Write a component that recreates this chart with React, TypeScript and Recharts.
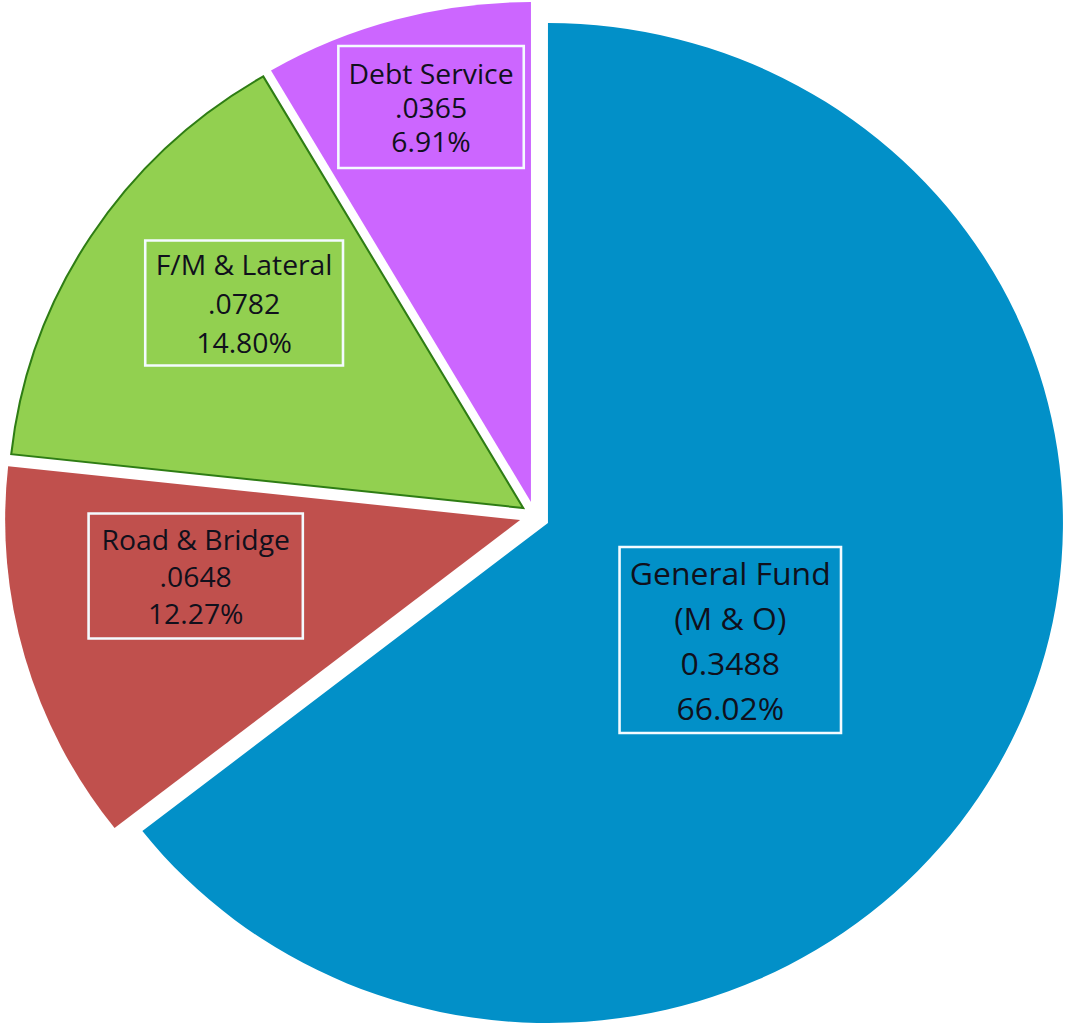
import { PieChart, Pie, Cell } from "recharts";

// funds, in clockwise order from 12 o'clock
const categories = ["General Fund (M & O)", "Road & Bridge", "F/M & Lateral", "Debt Service"];
// slice sizes as drawn in the picture (percent of circle)
const sliceShares = [64.42, 12.28, 14.86, 8.42];
// label texts as printed on the chart
const labelTitles = [["General Fund", "(M & O)"], ["Road & Bridge"], ["F/M & Lateral"], ["Debt Service"]];
const rateLabels = ["0.3488", ".0648", ".0782", ".0365"];
const shareLabels = ["66.02%", "12.27%", "14.80%", "6.91%"];

const data = categories.map((name, i) => ({ name, value: sliceShares[i] }));

const COLORS = ["#0290c8", "#c0504d", "#92d050", "#cc66ff"];
const STROKES = ["none", "none", "#2e7d14", "none"];

// the original picture is a little wider than tall
const STRETCH = 1.03;
const W = 1067;
const H = 1026;
const R = 500;

// exploded slice centres
const CENTERS = [
  { cx: 532, cy: 523 },
  { cx: 505, cy: 520 },
  { cx: 508, cy: 508 },
  { cx: 515.5, cy: 502 },
];
// label box offset from its slice centre, box size and font
const LABELS = [
  { dx: 177, dy: 117, w: 215, h: 186, fs: 31, lh: 45 },
  { dx: -315, dy: 56, w: 208, h: 125, fs: 27.5, lh: 37 },
  { dx: -271, dy: -205, w: 192, h: 125, fs: 27.5, lh: 39 },
  { dx: -97, dy: -395, w: 180, h: 122, fs: 27.5, lh: 34 },
];

const makeLabel = (own: number) => (props: any) => {
  const { cx, cy, index } = props;
  if (index !== own) return null;
  const b = LABELS[own];
  const x = cx + b.dx;
  const y = cy + b.dy;
  const lines = [...labelTitles[own], rateLabels[own], shareLabels[own]];
  const top = y - (lines.length * b.lh) / 2;
  return (
    <g>
      <rect
        x={x - b.w / 2}
        y={y - b.h / 2}
        width={b.w}
        height={b.h}
        fill="none"
        stroke="#f4fbff"
        strokeWidth={2.5}
      />
      {lines.map((t, k) => (
        <text
          key={k}
          x={x}
          y={top + b.lh * (k + 0.5)}
          textAnchor="middle"
          dominantBaseline="central"
          fontSize={b.fs}
          fontFamily="'Open Sans', sans-serif"
          fill="#10101c"
        >
          {t}
        </text>
      ))}
    </g>
  );
};

export default function App() {
  return (
    <div
      style={{
        position: "absolute",
        left: 0,
        top: 0,
        width: W,
        height: H,
        overflow: "hidden",
        background: "#fff",
      }}
    >
      <div style={{ transform: `scaleX(${STRETCH})`, transformOrigin: "0 0" }}>
        <PieChart
          width={Math.floor(W / STRETCH)}
          height={H}
          margin={{ top: 0, right: 0, bottom: 0, left: 0 }}
        >
          {CENTERS.map((c, own) => (
            <Pie
              key={own}
              data={data}
              dataKey="value"
              cx={c.cx}
              cy={c.cy}
              outerRadius={R}
              startAngle={90}
              endAngle={-270}
              labelLine={false}
              label={makeLabel(own)}
              isAnimationActive={false}
            >
              {data.map((_, i) => (
                <Cell
                  key={i}
                  fill={i === own ? COLORS[i] : "none"}
                  stroke={i === own ? STROKES[i] : "none"}
                  strokeWidth={i === own ? 2 : 0}
                />
              ))}
            </Pie>
          ))}
        </PieChart>
      </div>
    </div>
  );
}
